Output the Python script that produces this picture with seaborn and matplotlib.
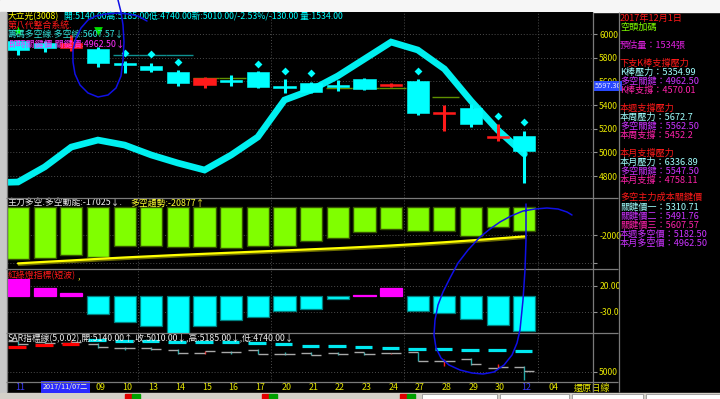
import numpy as np
import pandas as pd
import matplotlib
matplotlib.use("Agg")
import matplotlib.pyplot as plt
import matplotlib.patheffects as pe
from matplotlib.patches import Rectangle
import seaborn as sns

# ---------------- data ----------------
day_labels = ["11", "07", "08", "09", "10", "13", "14", "15", "16", "17",
              "20", "21", "22", "23", "24", "27", "28", "29", "30", "12", "04"]
month_label_days = [0, 19]
cursor_days = [1, 2]          # labels hidden under the cursor date box
cursor_label = "2017/11/07二"
period_label = "還原日線"

opens  = [5940, 5925, 5880, 5873, 5750, 5730, 5679, 5570, 5605, 5679,
          5555, 5586, 5563, 5620, 5570, 5603, 5330, 5376, 5120, 5140]
highs  = [5950, 5945, 5990, 5890, 5772, 5755, 5696, 5637, 5654, 5688,
          5620, 5595, 5612, 5625, 5590, 5620, 5401, 5409, 5240, 5185]
lows   = [5823, 5850, 5860, 5722, 5671, 5679, 5561, 5544, 5561, 5544,
          5502, 5502, 5519, 5530, 5550, 5316, 5181, 5215, 5100, 4740]
closes = [5865, 5880, 5925, 5755, 5745, 5696, 5586, 5629, 5600, 5553,
          5550, 5511, 5558, 5536, 5575, 5333, 5340, 5241, 5140, 5010]

# thick trend ribbon (starts one session before 11/06)
band_days = [-1] + list(range(20))
band_vals = [4745, 4751, 4878, 5046, 5105, 5063, 4979, 4911, 4852, 4979, 5131,
             5443, 5527, 5646, 5789, 5932, 5865, 5705, 5435, 5190, 4987]

nan = np.nan
diamond_vals = [nan, nan, nan, nan, 5840, 5831, 5764, nan, nan, 5747,
                5688, 5671, nan, nan, nan, 5688, nan, nan, 5308, 5257]
star_vals = [6025] + [nan] * 19
tri_vals = [nan, nan, nan, 6025] + [nan] * 16
level_vals = [nan, nan, nan, nan, 5823, 5823, 5823, 5629, 5629, nan,
              nan, nan, 5544, 5544, 5544, nan, 5468, nan, nan, nan]
level_kind = ["", "", "", "", "t", "t", "t", "o", "o", "",
              "", "", "o", "o", "o", "", "o", "", "", ""]

power_vals = [-36900, -36200, -34000, -35500, -27700, -27700, -28400, -28400, -29100, -27700,
              -27700, -24100, -22000, -17700, -15600, -17000, -17000, -20600, -14200, -17025]
trend_vals = [-40000, -38900, -37900, -36800, -35800, -34900, -34000, -33200, -32400, -31600,
              -30800, -30000, -29200, -28300, -27300, -26200, -25000, -23700, -22300, -20877]
light_vals = [33.5, 15.6, 5.4, -34.6, -49.6, -57.1, -73.7, -57.1, -45.4, -40.4,
              -28.8, -24.2, -5.8, 1.2, 15.6, -28.8, -32.7, -44.8, -55.0, -68.1]
sar_vals = [5766, 5828, 5859, 5984, 5963, 5953, 5931, 5931, 5922, 5881,
            5859, 5806, 5797, 5756, 5725, 5709, 5697, 5672, 5663, 5641]
sar_up = [True, True, True] + [False] * 17

price_ticks = [6000, 5800, 5600, 5400, 5200, 5000, 4800]
power_ticks = [-20000, -40000]
power_tick_labels = ["-2000", ""]
light_ticks = [20, -30]
light_tick_labels = ["20.00", "-30.0"]
sar_ticks = [5000]

header1a = "大立光(3008)"
header1b = "開:5140.00高:5185.00低:4740.00新:5010.00/-2.53%/-130.00 量:1534.00"
header2 = "第八代整合系統."
header3 = "籌碼多空線.多空線:5607.57↓"
header4 = "即時關鍵價.關鍵價:4962.50↓"
power_title_a = "主力多空.多空動能:-17025↓."
power_title_b = "多空趨勢:-20877↑"
light_title = "紅綠燈指標(短波)"
sar_title = "SAR指標線(5,0.02),開:5140.00↑,收:5010.00↓,高:5185.00↓,低:4740.00↓"
cursor_price = "5597.30"

info_lines = ["2017年12月1日", "空頭加碼", "預估量：1534張",
              "下支K棒支撐壓力", "K棒壓力：5354.99", "多空關鍵：4962.50", "K棒支撐：4570.01",
              "本週支撐壓力", "本周壓力：5672.7", "多空關鍵：5562.50", "本周支撐：5452.2",
              "本月支撐壓力", "本月壓力：6336.89", "多空關鍵：5547.50", "本月支撐：4758.11",
              "多空主力成本關鍵價", "關鍵價一：5310.71", "關鍵價二：5491.76", "關鍵價三：5607.57",
              "本週多空價：5182.50", "本月多空價：4962.50"]
info_kind = ["r", "g", "m", "r", "c", "v", "p", "r", "c", "v", "p",
             "r", "c", "v", "p", "r", "c", "v", "p", "v", "v"]
info_y = [18, 27, 45, 63, 72, 81, 90, 108, 117, 126, 135,
          153, 162, 171, 180, 197, 207, 216, 225, 234, 243]

# ---------------- style ----------------
sns.set_style("dark")
CJK = ["Noto Sans CJK TC", "DejaVu Sans"]
plt.rcParams["font.family"] = CJK
plt.rcParams["axes.unicode_minus"] = False

W, H = 720, 399
fig = plt.figure(figsize=(7.2, 3.99), dpi=100, facecolor="black")

RED = "#ff1a1a"
CYAN = "#00ffff"
YEL = "#e8e800"
KIND_COL = {"r": RED, "g": "#80ff00", "m": "#e020e0", "c": "#a0ffff",
            "v": "#cc33ff", "p": "#ff22aa"}

X0, X1, FIRST, STEP = 7, 593, 18, 26.65
XLIM = ((X0 - FIRST) / STEP, (X1 - FIRST) / STEP)
WEEK_BREAKS = [4.5, 9.5, 14.5, 19.5]
idx = np.arange(20)


def px_axes(y0, y1, x0=X0, x1=X1, z=1):
    return fig.add_axes([x0 / W, 1 - y1 / H, (x1 - x0) / W, (y1 - y0) / H], zorder=z)


def style(ax, ylim, ticks, labels):
    ax.set_facecolor("black")
    ax.set_xlim(*XLIM)
    ax.set_ylim(*ylim)
    for s in ax.spines.values():
        s.set_visible(False)
    ax.set_xticks(WEEK_BREAKS)
    ax.set_xticklabels([])
    ax.tick_params(axis="x", length=0)
    ax.set_yticks(ticks)
    ax.set_yticklabels(labels)
    ax.yaxis.tick_right()
    ax.tick_params(axis="y", length=3, width=0.8, color="#909090", labelcolor=YEL,
                   labelsize=6.2, pad=1.5, direction="out")
    ax.grid(True, color="#4c4c4c", linestyle=(0, (1, 2)), linewidth=0.7)
    ax.set_xlabel("")
    ax.set_ylabel("")


def ftext(x, y, s, color, size=6.6, ha="left", **kw):
    return fig.text(x / W, 1 - y / H, s, color=color, fontsize=size, ha=ha,
                    va="center", family=CJK, **kw)


# background chrome
bg = fig.add_axes([0, 0, 1, 1], zorder=-5)
bg.set_xlim(0, W)
bg.set_ylim(H, 0)
bg.axis("off")
bg.add_patch(Rectangle((0, 0), W, 11.5, color="#f6f6f6"))
bg.add_patch(Rectangle((0, 11.5), 6, 381, color="#c8c8c8"))
bg.add_patch(Rectangle((0, 392.5), W, 7, color="#d4d0c8"))
for x0b, x1b in [(422, 497), (500, 569), (572, 643), (646, 720)]:
    bg.add_patch(Rectangle((x0b, 393.5), x1b - x0b, 6, facecolor="white", edgecolor="#888888", lw=0.5))
for xb in [125, 262, 400]:
    bg.add_patch(Rectangle((xb, 393.5), 7, 6, color="#e00000"))
    bg.add_patch(Rectangle((xb + 7, 393.5), 8, 6, color="#00a000"))

# ---------------- main price panel ----------------
P_TOP, P_BOT = 6000 + 22 / 0.1185, 6000 - 164 / 0.1185
ax = px_axes(12, 198)
style(ax, (P_BOT, P_TOP), price_ticks, [str(t) for t in price_ticks])
sns.lineplot(x=band_days, y=band_vals, ax=ax, color="#00f0f0", lw=4.8,
             solid_joinstyle="miter", zorder=2, legend=False)
for i in idx:
    lv = level_vals[i]
    if not np.isnan(lv):
        ax.hlines(lv, i - 0.45, i + 0.55, color="#0e9090" if level_kind[i] == "t" else "#5f8f00",
                  lw=1.0, zorder=2.5)
for i, (o, h, l, c) in enumerate(zip(opens, highs, lows, closes)):
    col = RED if c >= o else CYAN
    ax.vlines(i, l, h, color=col, lw=2.2, zorder=3)
    if abs(c - o) < 18:
        bot, ht = (o + c) / 2 - 9, 18
    else:
        bot, ht = min(o, c), abs(c - o)
    ax.add_patch(Rectangle((i - 0.415, bot), 0.83, ht, facecolor=col, edgecolor=col,
                           lw=0.4, zorder=4))
ax.scatter(idx, diamond_vals, marker="D", s=16, color=CYAN, zorder=5, linewidths=0)
ax.scatter(idx, star_vals, marker="*", s=55, color="#00ff00", zorder=6, linewidths=0)
ax.scatter(idx, tri_vals, marker="v", s=40, color="#00e000", zorder=6, linewidths=0)

# ---------------- power panel ----------------
ax2 = px_axes(198, 268)
df_p = pd.DataFrame({"idx": idx, "val": power_vals})
sns.barplot(data=df_p, x="idx", y="val", ax=ax2, native_scale=True, width=0.83,
            color="#80ff00", saturation=1, edgecolor="#355500", linewidth=1.0,
            errorbar=None, zorder=2)
sns.lineplot(x=idx, y=trend_vals, ax=ax2, color="#ffff00", lw=1.6, zorder=3,
             path_effects=[pe.SimpleLineShadow(offset=(0.6, -1.1), shadow_color="#6a6a00", alpha=1),
                           pe.Normal()])
style(ax2, (-(268 - 207) / 1.41 * 1000, (207 - 198) / 1.41 * 1000), power_ticks, power_tick_labels)

# ---------------- red/green light panel ----------------
ax3 = px_axes(268, 333)
df_l = pd.DataFrame({"idx": idx, "val": light_vals,
                     "sign": ["pos" if v >= 0 else "neg" for v in light_vals]})
sns.barplot(data=df_l, x="idx", y="val", hue="sign", ax=ax3, native_scale=True,
            palette={"pos": "#ff00ff", "neg": "#00ffff"}, dodge=False, width=0.83,
            saturation=1, errorbar=None, legend=False, edgecolor="#008080",
            linewidth=0.9, zorder=2)
for p in ax3.patches:
    fc = p.get_facecolor()
    if fc[0] > 0.9:
        p.set_edgecolor(fc)
style(ax3, ((296 - 333) / 0.52, (296 - 268) / 0.52), light_ticks, light_tick_labels)

# ---------------- SAR panel ----------------
ax4 = px_axes(333, 382)
for i, (o, h, l, c) in enumerate(zip(opens, highs, lows, closes)):
    vcol = RED if c > o else "#20a8a8"
    ax4.vlines(i, l, h, color=vcol, lw=1.0, zorder=3)
    ax4.hlines(o, i - 0.38, i, color="#a8a8a8", lw=1.0, zorder=3)
    ax4.hlines(c, i, i + 0.38, color="#a8a8a8", lw=1.0, zorder=3)
for i, s in enumerate(sar_vals):
    ax4.hlines(s, i - 0.36, i + 0.30, color="#ff0000" if sar_up[i] else "#00e8f0",
               lw=2.3, zorder=4)
style(ax4, (5000 - 10.5 / 0.032, 5000 + 38.5 / 0.032), sar_ticks, [str(t) for t in sar_ticks])

# ---------------- date row ----------------
axd = px_axes(382, 392)
axd.set_facecolor("black")
axd.set_xlim(*XLIM)
axd.set_ylim(0, 1)
axd.axis("off")
for i, lab in enumerate(day_labels):
    if i in cursor_days:
        continue
    axd.text(i + 0.08, 0.5, lab, color="#3a3aff" if i in month_label_days else YEL,
             fontsize=6.4, ha="center", va="center", zorder=2)
axd.text(0.93, 0.5, cursor_label, color="#ffffd0", fontsize=5.2, ha="left", va="center",
         zorder=5, bbox=dict(boxstyle="square,pad=0.25", facecolor="#2a2aff", edgecolor="none"))
ftext(592, 388, period_label, YEL, size=6.6, ha="center")

# ---------------- texts ----------------
ftext(8, 17, header1a, "#ffff00", size=6.3)
ftext(64, 17, header1b, CYAN, size=6.3)
ftext(8, 26.5, header2, RED, size=6.4)
ftext(8, 35.5, header3, "#30e0d8", size=6.4)
ftext(8, 44, header4, "#ff30ff", size=6.4)
ftext(8, 203, power_title_a, "#f0f0f0", size=6.4)
ftext(130, 203, power_title_b, "#ffff30", size=6.4)
ftext(8, 276, light_title, RED, size=6.4)
ftext(77, 277, ",", "#ffff30", size=6.4)
ftext(8, 338.5, sar_title, "#f0f0f0", size=6.3)
ftext(594.5, 86, cursor_price, "#e8e8ff", size=5.3,
      bbox=dict(boxstyle="square,pad=0.15", facecolor="#2848ff", edgecolor="none"))
for yy, s, k in zip(info_y, info_lines, info_kind):
    ftext(620, yy, s, KIND_COL[k])

# ---------------- overlay: separators + hand annotations ----------------
ov = fig.add_axes([0, 0, 1, 1], zorder=20)
ov.set_xlim(0, W)
ov.set_ylim(H, 0)
ov.axis("off")
ov.patch.set_alpha(0)
for yy in [198, 268.5, 333, 382]:
    ov.hlines(yy, 6, 618, color="#7a7a7a", lw=0.9)
ov.vlines([6.5, 593, 618.5], 11.5, 392, color="#7a7a7a", lw=0.9)

loop1 = [(147, 21), (138, 16), (128, 14), (118, 13), (106, 14), (96, 16), (88, 20), (81, 28),
         (76, 38), (73, 50), (73, 62), (75, 74), (80, 85), (88, 93), (98, 97), (108, 95),
         (116, 88), (121, 76), (123, 60), (124, 42), (123, 25), (121, 12), (118, 0)]
loop2 = [(572, 215), (567, 212), (558, 209), (547, 208), (535, 209), (523, 211), (511, 216),
         (500, 222), (490, 229), (480, 237), (468, 250), (458, 263), (450, 278), (443, 292),
         (438, 305), (435, 320), (434, 335), (436, 348), (441, 358), (449, 365), (460, 370),
         (472, 373), (483, 374), (494, 372), (504, 365), (512, 355), (517, 343), (520, 330),
         (523, 300), (525, 270), (526, 240), (526, 215), (526, 204)]
for loop in (loop1, loop2):
    xs, ys = zip(*loop)
    ov.plot(xs, ys, color="#1010e6", lw=1.1, solid_joinstyle="round")

fig.savefig("out.png", dpi=100, facecolor="black")
